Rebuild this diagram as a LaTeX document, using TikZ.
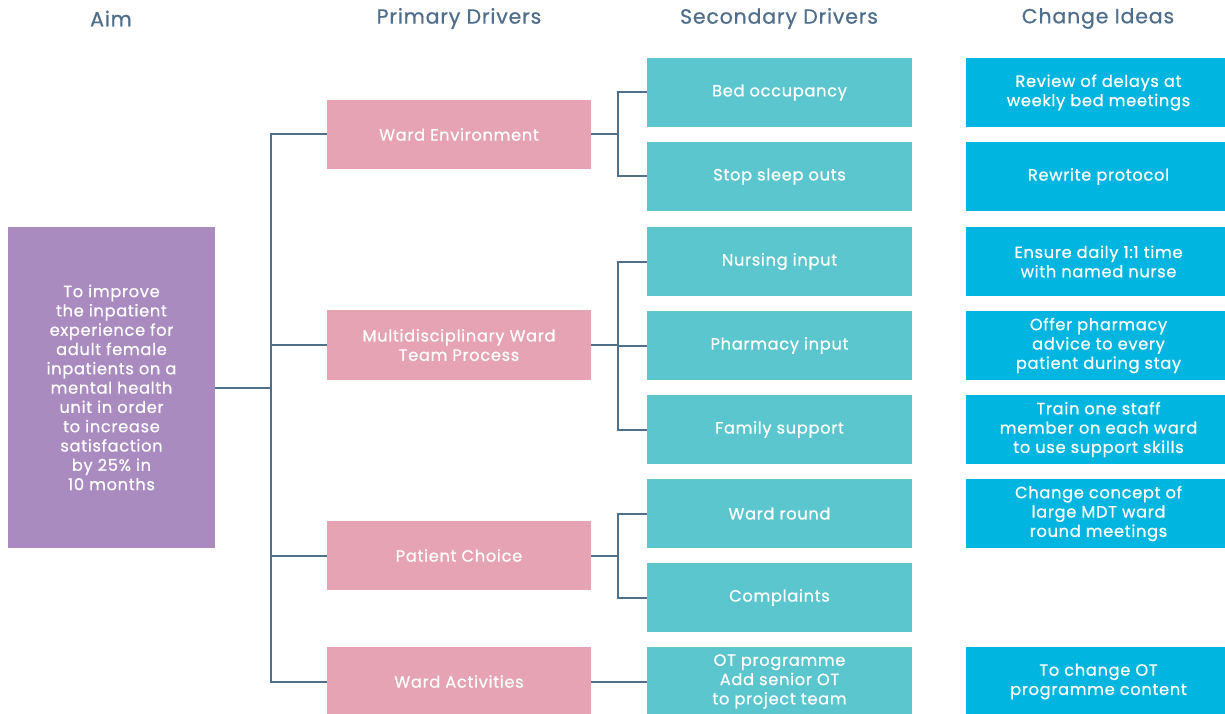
\documentclass[tikz,border=0pt]{standalone}
\usepackage{fontspec}
\setmainfont{Poppins}[LetterSpace=4,FakeBold=0.6]
\definecolor{aimc}{HTML}{A98BC0}
\definecolor{pinkc}{HTML}{E5A3B3}
\definecolor{tealc}{HTML}{5CC6CE}
\definecolor{bluec}{HTML}{00B5E0}
\definecolor{linec}{HTML}{4E7189}
\definecolor{headc}{HTML}{4F6E8C}
\tikzset{
  box/.style={rectangle, inner sep=0pt, text=white, align=center,
    minimum width=265pt, minimum height=69pt, font=\fontsize{16.3}{19.3}\selectfont},
  prim/.style={box, fill=pinkc},
  sec/.style={box, fill=tealc},
  idea/.style={box, fill=bluec},
  aimbox/.style={box, fill=aimc, minimum width=207pt, minimum height=321pt},
  head/.style={text=headc, font=\fontsize{20.5}{23}\selectfont},
  conn/.style={draw=linec, line width=2pt}
}
\begin{document}
\begin{tikzpicture}[x=1pt,y=-1pt]
\useasboundingbox (0,0) rectangle (1225,714);
\clip (0,0) rectangle (1225,714);
\fill[white] (0,0) rectangle (1225,714);
% headers
\node[head] (hA) at (111,18.5) {Aim};
\node[head] (hP) at (459,18.5) {Primary Drivers};
\node[head] (hS) at (779,18.5) {Secondary Drivers};
\node[head] (hC) at (1098,18.5) {Change Ideas};
% aim
\node[aimbox] (aim) at (111.5,387.5) {To improve\\the inpatient\\experience for\\adult female\\inpatients on a\\mental health\\unit in order\\to increase\\satisfaction\\by 25\% in\\10 months};
% primary drivers
\node[prim, minimum width=264pt] (p1) at (459,134.5) {Ward Environment};
\node[prim, minimum width=264pt, minimum height=70pt] (p2) at (459,345) {Multidisciplinary Ward\\Team Process};
\node[prim, minimum width=264pt] (p3) at (459,555.5) {Patient Choice};
\node[prim, minimum width=264pt] (p4) at (459,681.5) {Ward Activities};
% secondary drivers
\node[sec] (s1) at (779.5,92.5) {Bed occupancy};
\node[sec] (s2) at (779.5,176.5) {Stop sleep outs};
\node[sec] (s3) at (779.5,261.5) {Nursing input};
\node[sec] (s4) at (779.5,345.5) {Pharmacy input};
\node[sec] (s5) at (779.5,429.5) {Family support};
\node[sec] (s6) at (779.5,513.5) {Ward round};
\node[sec] (s7) at (779.5,597.5) {Complaints};
\node[sec] (s8) at (779.5,681.5) {OT programme\\Add senior OT\\to project team};
% change ideas
\node[idea] (c1) at (1098.5,92.5) {Review of delays at\\weekly bed meetings};
\node[idea] (c2) at (1098.5,176.5) {Rewrite protocol};
\node[idea] (c3) at (1098.5,261.5) {Ensure daily 1:1 time\\with named nurse};
\node[idea] (c4) at (1098.5,345.5) {Offer pharmacy\\advice to every\\patient during stay};
\node[idea] (c5) at (1098.5,429.5) {Train one staff\\member on each ward\\to use support skills};
\node[idea] (c6) at (1098.5,513.5) {Change concept of\\large MDT ward\\round meetings};
\node[idea] (c8) at (1098.5,681.5) {To change OT\\programme content};
% connectors: aim to primary
\coordinate (t) at (271,387.5);
\draw[conn] (aim.east) -- (t);
\draw[conn] (p1.west) -| (t);
\draw[conn] (p2.west) -| (t);
\draw[conn] (p3.west) -| (t);
\draw[conn] (p4.west) -| (t);
% primary to secondary
\coordinate (b1) at (618,134.5);
\draw[conn] (p1.east) -- (b1);
\draw[conn] (s1.west) -| (b1);
\draw[conn] (s2.west) -| (b1);
\coordinate (b2) at (618,345);
\draw[conn] (p2.east) -- (b2);
\draw[conn] (s3.west) -| (b2);
\draw[conn] (s4.west) -| (b2);
\draw[conn] (s5.west) -| (b2);
\coordinate (b3) at (618,555.5);
\draw[conn] (p3.east) -- (b3);
\draw[conn] (s6.west) -| (b3);
\draw[conn] (s7.west) -| (b3);
\draw[conn] (p4.east) -- (s8.west);
\end{tikzpicture}
\end{document}
